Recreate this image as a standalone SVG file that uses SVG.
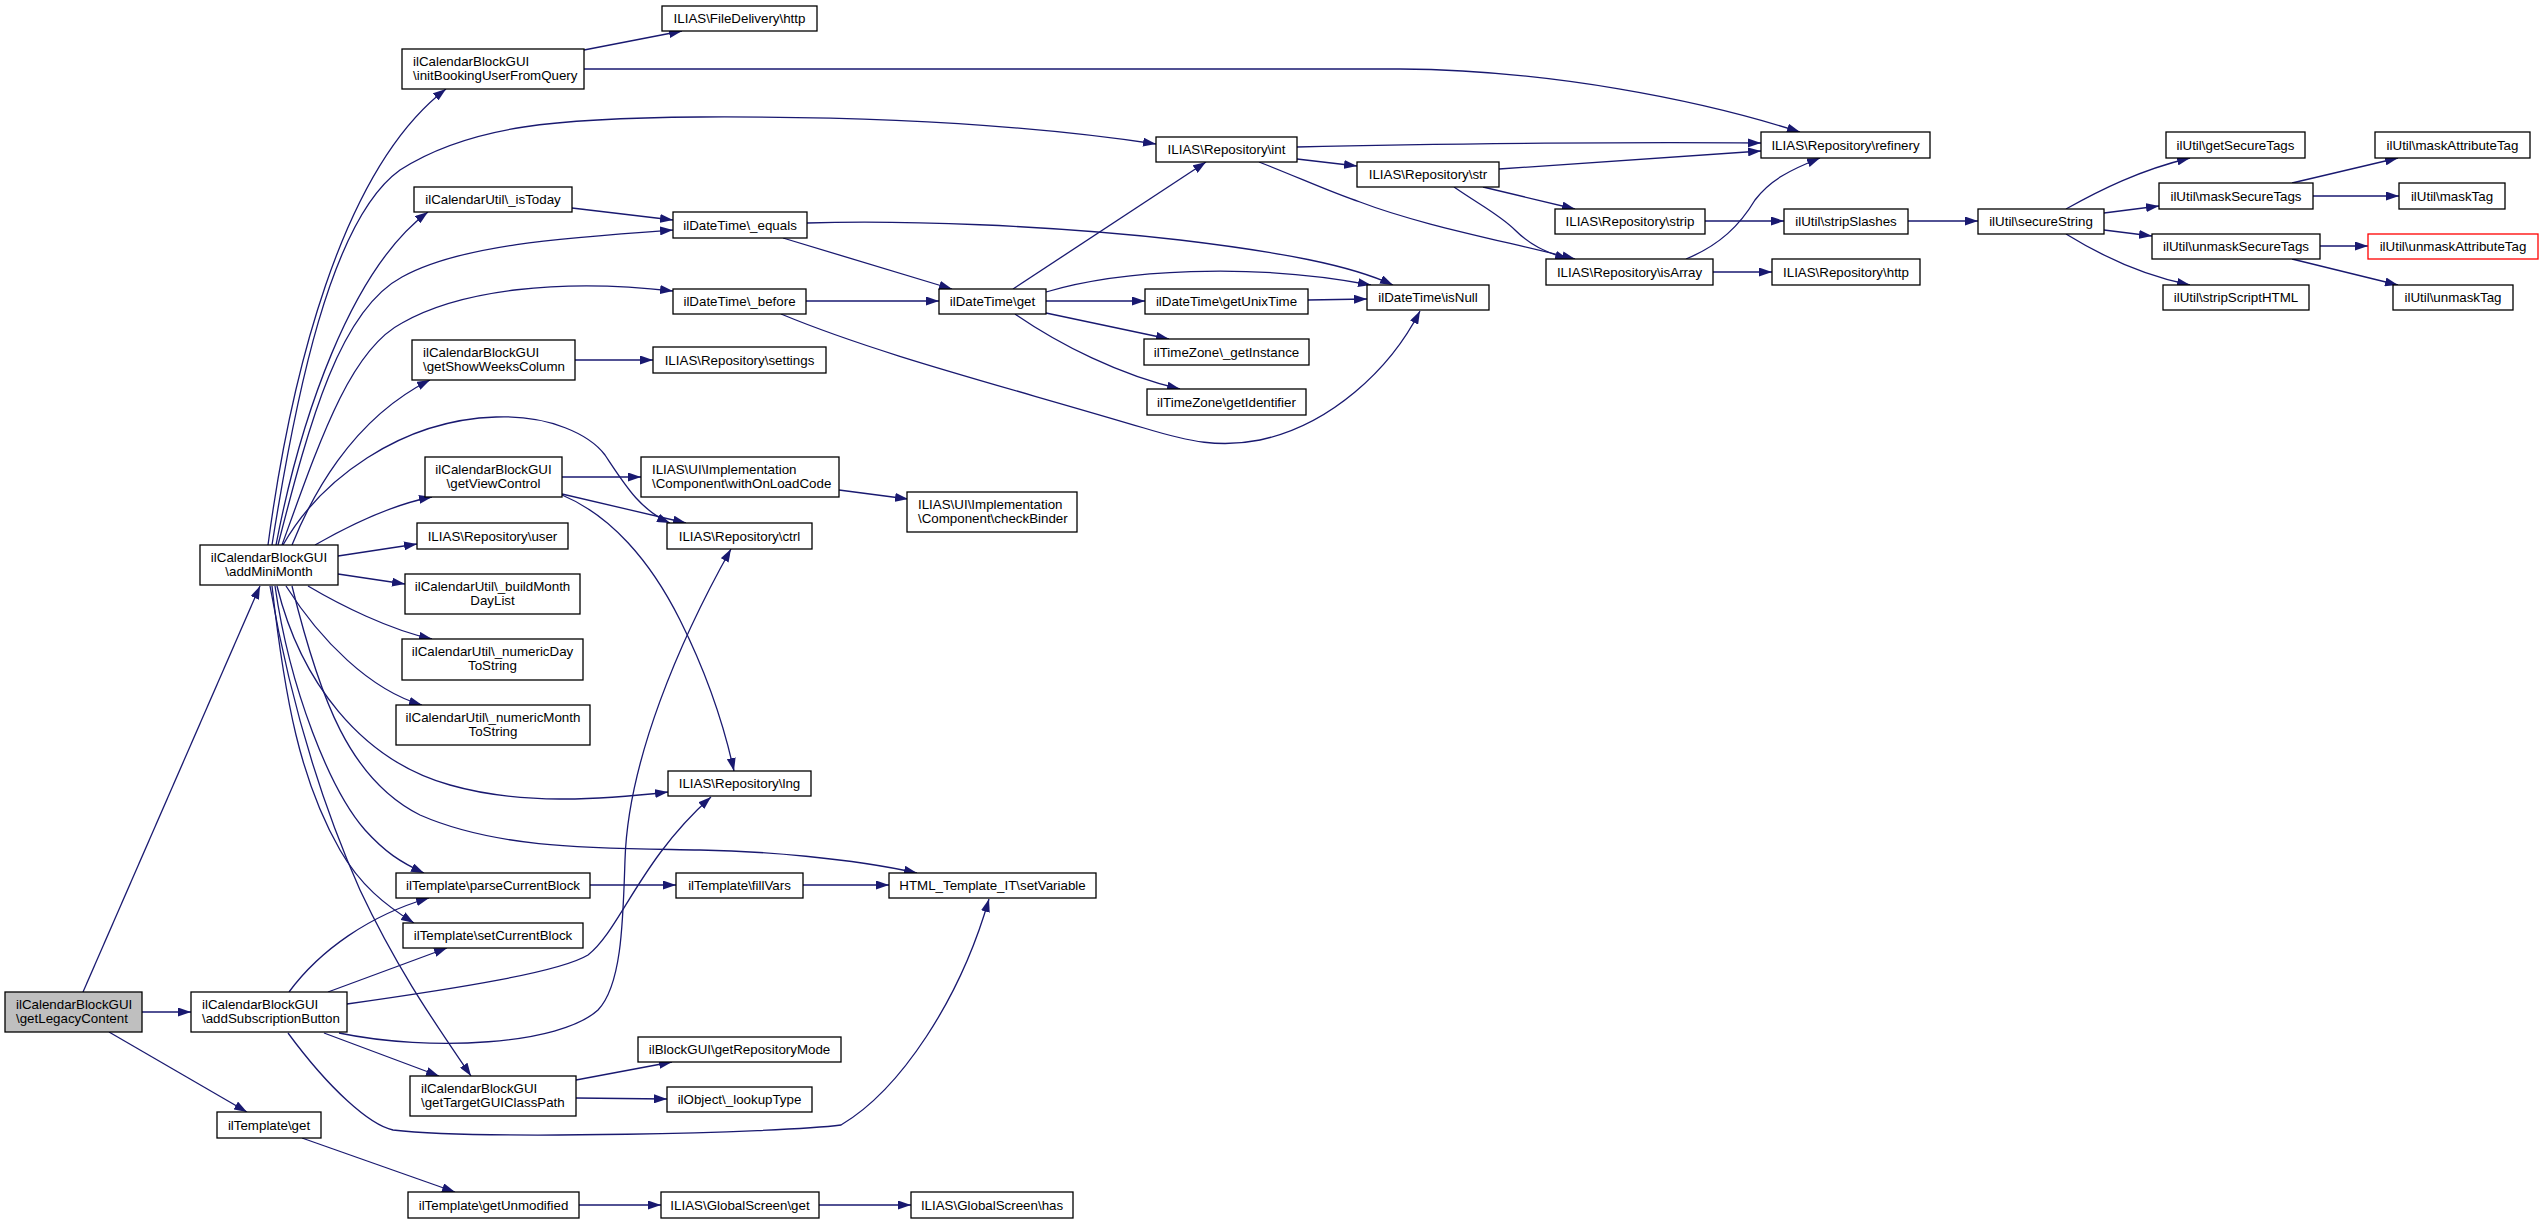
<svg xmlns="http://www.w3.org/2000/svg" width="2543" height="1224" viewBox="0 0 2543 1224">
<defs>
<marker id="a" viewBox="0 0 13 9" refX="13" refY="4.5" markerWidth="13" markerHeight="9" markerUnits="userSpaceOnUse" orient="auto"><path d="M0,0 L13,4.5 L0,9 z" fill="#191970"/></marker>
</defs>
<style>
.n rect{fill:#fff;stroke:#000;stroke-width:1.3}
.g rect{fill:#bfbfbf}
.r rect{stroke:#ff0000}
text{font-family:"Liberation Sans",Arial,sans-serif;font-size:13.33px;fill:#000;text-anchor:middle}
text.l{text-anchor:start}
#edges path{fill:none;stroke:#191970;stroke-width:1.3;marker-end:url(#a)}
</style>
<rect width="2543" height="1224" fill="#fff"/>
<g id="edges">
<path d="M83,992 L260,586"/>
<path d="M142,1012 L191,1012"/>
<path d="M109,1032 L247,1112"/>
<path d="M302,1138 L455,1192"/>
<path d="M579,1205 L661,1205"/>
<path d="M819,1205 L911,1205"/>
<path d="M268,545 C290,380 340,170 446,89"/>
<path d="M272,545 C295,400 330,220 400,170 C470,125 560,118 700,117 C900,116 1050,128 1156,144"/>
<path d="M276,545 C300,420 350,270 428,212"/>
<path d="M278,545 C310,420 340,310 402,277 C460,245 560,238 673,230"/>
<path d="M572,208 L673,220"/>
<path d="M282,545 C320,440 350,350 402,323 C460,290 560,278 673,291"/>
<path d="M292,545 C310,500 350,420 430,380"/>
<path d="M575,360 L653,360"/>
<path d="M315,545 C350,525 390,505 432,497"/>
<path d="M338,556 L417,544"/>
<path d="M338,574 L405,584"/>
<path d="M308,586 C340,605 390,630 432,639"/>
<path d="M286,586 C320,640 370,690 422,705"/>
<path d="M283,545 C320,480 400,420 496,417 C550,415 590,435 605,455 C625,485 640,510 670,523"/>
<path d="M562,477 L641,477"/>
<path d="M562,494 L686,523"/>
<path d="M562,495 C610,515 650,560 680,620 C710,680 725,730 734,771"/>
<path d="M839,490 L908,499"/>
<path d="M277,586 C300,680 360,760 450,785 C520,805 600,800 668,792"/>
<path d="M339,1033 C430,1052 560,1045 598,1010 C622,985 623,920 625,860 C628,760 680,640 731,549"/>
<path d="M347,1004 C460,988 560,972 588,955 C620,930 640,860 711,797"/>
<path d="M289,992 C320,950 370,915 429,898"/>
<path d="M328,992 L447,948"/>
<path d="M324,1033 L439,1076"/>
<path d="M288,1033 C330,1090 370,1125 393,1130 C480,1140 780,1133 841,1125 C900,1090 960,1000 989,899"/>
<path d="M275,586 C290,690 330,790 365,830 C385,852 400,862 424,873"/>
<path d="M272,586 C285,700 300,780 340,850 C360,885 385,905 414,923"/>
<path d="M270,586 C290,700 320,800 360,890 C400,975 440,1030 471,1076"/>
<path d="M292,586 C320,700 350,780 420,815 C500,850 600,848 700,850 C760,851 850,858 917,873"/>
<path d="M584,50 L682,31"/>
<path d="M584,69 L1400,69 C1550,70 1700,100 1800,132"/>
<path d="M1297,147 C1450,143 1650,142 1761,143"/>
<path d="M1297,159 L1357,166"/>
<path d="M1259,162 C1300,178 1330,192 1360,202 C1420,225 1500,240 1575,259"/>
<path d="M1499,169 L1761,151"/>
<path d="M1483,187 L1575,209"/>
<path d="M1454,187 C1480,205 1500,215 1515,230 C1530,245 1545,252 1568,259"/>
<path d="M1705,221 L1784,221"/>
<path d="M1908,221 L1978,221"/>
<path d="M1686,259 C1720,245 1740,225 1755,200 C1770,180 1790,170 1820,158"/>
<path d="M1713,272 L1772,272"/>
<path d="M2066,209 C2100,190 2140,170 2190,158"/>
<path d="M2104,213 L2159,206"/>
<path d="M2104,230 L2152,236"/>
<path d="M2066,234 C2100,255 2140,275 2190,285"/>
<path d="M2292,183 L2398,158"/>
<path d="M2313,196 L2399,196"/>
<path d="M2320,246 L2368,246"/>
<path d="M2292,259 L2398,285"/>
<path d="M783,238 L952,289"/>
<path d="M807,223 C900,220 1050,225 1180,240 C1280,252 1350,265 1393,285"/>
<path d="M1013,289 L1206,162"/>
<path d="M1046,301 L1145,301"/>
<path d="M1046,313 L1169,339"/>
<path d="M1015,314 C1060,345 1120,375 1180,389"/>
<path d="M1046,292 C1120,270 1250,262 1371,285"/>
<path d="M1308,300 L1367,299"/>
<path d="M806,301 L939,301"/>
<path d="M781,314 C880,355 1000,385 1144,428 C1190,442 1220,448 1260,440 C1330,425 1390,370 1420,311"/>
<path d="M590,885 L676,885"/>
<path d="M803,885 L889,885"/>
<path d="M576,1080 L672,1062"/>
<path d="M576,1098 L667,1099"/>
</g>
<g id="n_getLegacyContent" class="n g"><rect x="5" y="992" width="137" height="40"/><text class="l" x="16" y="1008.5">ilCalendarBlockGUI</text><text class="l" x="16" y="1023">\getLegacyContent</text></g>
<g id="n_addMiniMonth" class="n"><rect x="200" y="545" width="138" height="40"/><text x="269" y="561.5">ilCalendarBlockGUI</text><text x="269" y="576">\addMiniMonth</text></g>
<g id="n_addSubscriptionButton" class="n"><rect x="191" y="992" width="156" height="40"/><text class="l" x="202" y="1008.5">ilCalendarBlockGUI</text><text class="l" x="202" y="1023">\addSubscriptionButton</text></g>
<g id="n_tplGet" class="n"><rect x="217" y="1112" width="104" height="26"/><text x="269" y="1129.5">ilTemplate\get</text></g>
<g id="n_initBooking" class="n"><rect x="402" y="49" width="182" height="40"/><text class="l" x="413" y="65.5">ilCalendarBlockGUI</text><text class="l" x="413" y="80">\initBookingUserFromQuery</text></g>
<g id="n_isToday" class="n"><rect x="414" y="187" width="158" height="25"/><text x="493" y="204">ilCalendarUtil\_isToday</text></g>
<g id="n_showWeeks" class="n"><rect x="412" y="340" width="163" height="40"/><text class="l" x="423" y="356.5">ilCalendarBlockGUI</text><text class="l" x="423" y="371">\getShowWeeksColumn</text></g>
<g id="n_viewControl" class="n"><rect x="425" y="457" width="137" height="40"/><text x="493.5" y="473.5">ilCalendarBlockGUI</text><text x="493.5" y="488">\getViewControl</text></g>
<g id="n_user" class="n"><rect x="417" y="523" width="151" height="26"/><text x="492.5" y="540.5">ILIAS\Repository\user</text></g>
<g id="n_buildMonth" class="n"><rect x="405" y="574" width="175" height="40"/><text x="492.5" y="590.5">ilCalendarUtil\_buildMonth</text><text x="492.5" y="605">DayList</text></g>
<g id="n_numericDay" class="n"><rect x="402" y="639" width="181" height="41"/><text x="492.5" y="655.5">ilCalendarUtil\_numericDay</text><text x="492.5" y="670">ToString</text></g>
<g id="n_numericMonth" class="n"><rect x="396" y="705" width="194" height="40"/><text x="493" y="721.5">ilCalendarUtil\_numericMonth</text><text x="493" y="736">ToString</text></g>
<g id="n_parseCurrentBlock" class="n"><rect x="396" y="873" width="194" height="25"/><text x="493" y="890">ilTemplate\parseCurrentBlock</text></g>
<g id="n_setCurrentBlock" class="n"><rect x="403" y="923" width="180" height="25"/><text x="493" y="940">ilTemplate\setCurrentBlock</text></g>
<g id="n_targetGUI" class="n"><rect x="410" y="1076" width="166" height="40"/><text class="l" x="421" y="1092.5">ilCalendarBlockGUI</text><text class="l" x="421" y="1107">\getTargetGUIClassPath</text></g>
<g id="n_getUnmodified" class="n"><rect x="408" y="1192" width="171" height="26"/><text x="493.5" y="1209.5">ilTemplate\getUnmodified</text></g>
<g id="n_fileDelivery" class="n"><rect x="662" y="6" width="155" height="25"/><text x="739.5" y="23">ILIAS\FileDelivery\http</text></g>
<g id="n_equals" class="n"><rect x="673" y="212" width="134" height="26"/><text x="740" y="229.5">ilDateTime\_equals</text></g>
<g id="n_before" class="n"><rect x="673" y="289" width="133" height="25"/><text x="739.5" y="306">ilDateTime\_before</text></g>
<g id="n_settings" class="n"><rect x="653" y="347" width="173" height="26"/><text x="739.5" y="364.5">ILIAS\Repository\settings</text></g>
<g id="n_withOnLoadCode" class="n"><rect x="641" y="457" width="198" height="40"/><text class="l" x="652" y="473.5">ILIAS\UI\Implementation</text><text class="l" x="652" y="488">\Component\withOnLoadCode</text></g>
<g id="n_ctrl" class="n"><rect x="667" y="523" width="145" height="26"/><text x="739.5" y="540.5">ILIAS\Repository\ctrl</text></g>
<g id="n_lng" class="n"><rect x="668" y="771" width="143" height="25"/><text x="739.5" y="788">ILIAS\Repository\lng</text></g>
<g id="n_fillVars" class="n"><rect x="676" y="873" width="127" height="25"/><text x="739.5" y="890">ilTemplate\fillVars</text></g>
<g id="n_repoMode" class="n"><rect x="638" y="1037" width="203" height="25"/><text x="739.5" y="1054">ilBlockGUI\getRepositoryMode</text></g>
<g id="n_lookupType" class="n"><rect x="667" y="1087" width="145" height="25"/><text x="739.5" y="1104">ilObject\_lookupType</text></g>
<g id="n_gsGet" class="n"><rect x="661" y="1192" width="158" height="26"/><text x="740" y="1209.5">ILIAS\GlobalScreen\get</text></g>
<g id="n_dtGet" class="n"><rect x="939" y="289" width="107" height="25"/><text x="992.5" y="306">ilDateTime\get</text></g>
<g id="n_checkBinder" class="n"><rect x="907" y="492" width="170" height="40"/><text class="l" x="918" y="508.5">ILIAS\UI\Implementation</text><text class="l" x="918" y="523">\Component\checkBinder</text></g>
<g id="n_setVariable" class="n"><rect x="889" y="873" width="207" height="25"/><text x="992.5" y="890">HTML_Template_IT\setVariable</text></g>
<g id="n_gsHas" class="n"><rect x="911" y="1192" width="162" height="26"/><text x="992" y="1209.5">ILIAS\GlobalScreen\has</text></g>
<g id="n_int" class="n"><rect x="1156" y="137" width="141" height="25"/><text x="1226.5" y="154">ILIAS\Repository\int</text></g>
<g id="n_unixTime" class="n"><rect x="1145" y="289" width="163" height="25"/><text x="1226.5" y="306">ilDateTime\getUnixTime</text></g>
<g id="n_getInstance" class="n"><rect x="1144" y="339" width="165" height="26"/><text x="1226.5" y="356.5">ilTimeZone\_getInstance</text></g>
<g id="n_getIdentifier" class="n"><rect x="1147" y="389" width="159" height="26"/><text x="1226.5" y="406.5">ilTimeZone\getIdentifier</text></g>
<g id="n_str" class="n"><rect x="1357" y="162" width="142" height="25"/><text x="1428" y="179">ILIAS\Repository\str</text></g>
<g id="n_isNull" class="n"><rect x="1367" y="285" width="122" height="25"/><text x="1428" y="302">ilDateTime\isNull</text></g>
<g id="n_strip" class="n"><rect x="1555" y="209" width="150" height="25"/><text x="1630" y="226">ILIAS\Repository\strip</text></g>
<g id="n_isArray" class="n"><rect x="1546" y="259" width="167" height="26"/><text x="1629.5" y="276.5">ILIAS\Repository\isArray</text></g>
<g id="n_refinery" class="n"><rect x="1761" y="132" width="169" height="26"/><text x="1845.5" y="149.5">ILIAS\Repository\refinery</text></g>
<g id="n_stripSlashes" class="n"><rect x="1784" y="209" width="124" height="25"/><text x="1846" y="226">ilUtil\stripSlashes</text></g>
<g id="n_http" class="n"><rect x="1772" y="259" width="148" height="26"/><text x="1846" y="276.5">ILIAS\Repository\http</text></g>
<g id="n_secureString" class="n"><rect x="1978" y="209" width="126" height="25"/><text x="2041" y="226">ilUtil\secureString</text></g>
<g id="n_getSecureTags" class="n"><rect x="2166" y="132" width="139" height="26"/><text x="2235.5" y="149.5">ilUtil\getSecureTags</text></g>
<g id="n_maskSecureTags" class="n"><rect x="2159" y="183" width="154" height="26"/><text x="2236" y="200.5">ilUtil\maskSecureTags</text></g>
<g id="n_unmaskSecureTags" class="n"><rect x="2152" y="234" width="168" height="25"/><text x="2236" y="251">ilUtil\unmaskSecureTags</text></g>
<g id="n_stripScriptHTML" class="n"><rect x="2163" y="285" width="146" height="25"/><text x="2236" y="302">ilUtil\stripScriptHTML</text></g>
<g id="n_maskAttributeTag" class="n"><rect x="2375" y="132" width="155" height="26"/><text x="2452.5" y="149.5">ilUtil\maskAttributeTag</text></g>
<g id="n_maskTag" class="n"><rect x="2399" y="183" width="106" height="26"/><text x="2452" y="200.5">ilUtil\maskTag</text></g>
<g id="n_unmaskAttributeTag" class="n r"><rect x="2368" y="234" width="170" height="25"/><text x="2453" y="251">ilUtil\unmaskAttributeTag</text></g>
<g id="n_unmaskTag" class="n"><rect x="2393" y="285" width="120" height="25"/><text x="2453" y="302">ilUtil\unmaskTag</text></g>
</svg>
